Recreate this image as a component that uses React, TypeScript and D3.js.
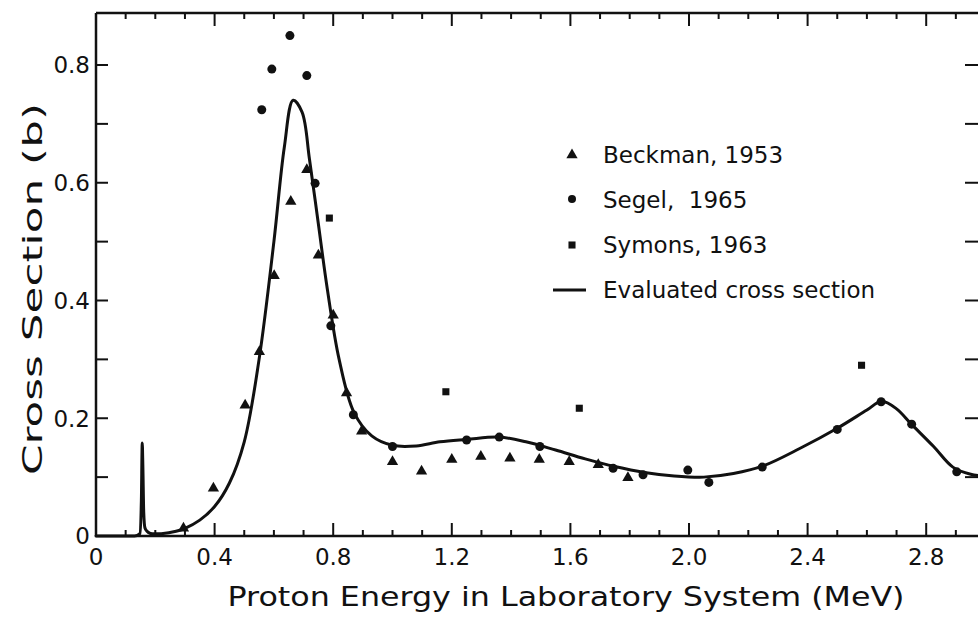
import React from "react";
import * as d3 from "d3";

// Beckman, 1953 (triangles)
const beckmanE = [0.295, 0.396, 0.503, 0.551, 0.601, 0.657, 0.711, 0.75, 0.8, 0.845, 0.896, 1.0, 1.098, 1.2, 1.298, 1.396, 1.495, 1.596, 1.694, 1.794];
const beckmanS = [0.013, 0.081, 0.222, 0.313, 0.442, 0.568, 0.622, 0.477, 0.375, 0.243, 0.178, 0.126, 0.11, 0.13, 0.135, 0.132, 0.13, 0.126, 0.121, 0.099];

// Segel, 1965 (circles)
const segelE = [0.559, 0.593, 0.654, 0.711, 0.739, 0.792, 0.868, 1.0, 1.25, 1.36, 1.497, 1.744, 1.845, 1.996, 2.067, 2.247, 2.5, 2.648, 2.751, 2.903];
const segelS = [0.724, 0.793, 0.85, 0.782, 0.599, 0.357, 0.206, 0.152, 0.163, 0.168, 0.152, 0.115, 0.104, 0.112, 0.091, 0.117, 0.181, 0.228, 0.19, 0.109];

// Symons, 1963 (squares)
const symonsE = [0.787, 1.18, 1.63, 2.582];
const symonsS = [0.54, 0.245, 0.217, 0.29];

// Evaluated cross section: narrow resonance near 0.16 MeV, then the broad curve
const spikeE = [0.0, 0.13, 0.148, 0.153, 0.156, 0.158, 0.161, 0.165, 0.172, 0.185];
const spikeS = [0.0, 0.0, 0.004, 0.06, 0.158, 0.12, 0.04, 0.014, 0.008, 0.004];
const evalE = [0.185, 0.22, 0.27, 0.3, 0.35, 0.4, 0.45, 0.5, 0.55, 0.6, 0.635, 0.665, 0.695, 0.72, 0.75, 0.78, 0.82, 0.87, 0.93, 1.0, 1.08, 1.16, 1.25, 1.36, 1.45, 1.55, 1.65, 1.75, 1.85, 1.95, 2.05, 2.15, 2.25, 2.375, 2.5, 2.6, 2.65, 2.7, 2.75, 2.825, 2.89, 2.95, 3.0];
const evalS = [0.004, 0.004, 0.008, 0.013, 0.027, 0.05, 0.09, 0.16, 0.3, 0.5, 0.66, 0.74, 0.72, 0.64, 0.53, 0.42, 0.3, 0.21, 0.17, 0.154, 0.153, 0.16, 0.164, 0.168, 0.16, 0.146, 0.131, 0.118, 0.108, 0.102, 0.1, 0.106, 0.119, 0.149, 0.183, 0.214, 0.229, 0.216, 0.19, 0.152, 0.117, 0.105, 0.102];

const xLabels = ["0", "0.4", "0.8", "1.2", "1.6", "2.0", "2.4", "2.8"];
const yLabels = ["0", "0.2", "0.4", "0.6", "0.8"];

const legendNames = ["Beckman, 1953", "Segel,  1965", "Symons, 1963", "Evaluated cross section"];

const W = 978;
const H = 618;
const ink = "#111";
const font = "'DejaVu Sans', sans-serif";

export default function App() {
  const x = d3.scaleLinear().domain([0, 3.0]).range([96, 96 + 3 * 296.5]);
  const y = d3.scaleLinear().domain([0, 0.8]).range([536, 65]);
  const yTop = y.invert(13);

  const spikeLine = d3
    .line<number>()
    .x((_, i) => x(spikeE[i]))
    .y((d) => y(d))
    .curve(d3.curveMonotoneX);
  const mainLine = d3
    .line<number>()
    .x((_, i) => x(evalE[i]))
    .y((d) => y(d))
    .curve(d3.curveCatmullRom.alpha(0.5));

  const minorX = d3.range(1, 30).map((i) => i / 10);
  const minorY = d3.range(1, 9).map((i) => i / 10);

  const tri = d3.symbol().type(d3.symbolTriangle).size(55)();
  const sq = d3.symbol().type(d3.symbolSquare).size(50)();

  return (
    <svg width={W} height={H} style={{ position: "absolute", left: 0, top: 0, background: "#fff" }}>
      <rect width={W} height={H} fill="#fff" />
      {/* frame */}
      <g stroke={ink} strokeWidth={2.5} fill="none">
        <line x1={x(0)} x2={x(0)} y1={y(yTop)} y2={y(0)} />
        <line x1={x(0)} x2={x(3)} y1={y(0)} y2={y(0)} />
        <line x1={x(0)} x2={x(3)} y1={y(yTop)} y2={y(yTop)} />
        <line x1={x(3)} x2={x(3)} y1={y(yTop)} y2={y(0)} />
      </g>
      {/* x ticks bottom and top */}
      <g stroke={ink} strokeWidth={2}>
        {minorX.map((v) => {
          const major = Math.abs(v / 0.4 - Math.round(v / 0.4)) < 1e-6;
          const len = major ? 13 : 6;
          return (
            <g key={v}>
              <line x1={x(v)} x2={x(v)} y1={y(0)} y2={y(0) - len} />
              <line x1={x(v)} x2={x(v)} y1={y(yTop)} y2={y(yTop) + len} />
            </g>
          );
        })}
      </g>
      {/* y ticks left and right */}
      <g stroke={ink} strokeWidth={2}>
        {minorY.map((v) => (
          <g key={v}>
            <line x1={x(0)} x2={x(0) + 12} y1={y(v)} y2={y(v)} />
            <line x1={965} x2={x(3)} y1={y(v)} y2={y(v)} />
          </g>
        ))}
      </g>
      {/* tick labels */}
      <g fill={ink} fontFamily={font} fontSize={23}>
        {xLabels.map((t) => (
          <text key={t} x={x(+t)} y={565} textAnchor="middle">
            {t}
          </text>
        ))}
        {yLabels.map((t) => (
          <text key={t} x={90} y={y(+t)} dy="0.36em" textAnchor="end">
            {t}
          </text>
        ))}
      </g>
      {/* axis titles */}
      <text x={566} y={606} textAnchor="middle" fontFamily={font} fontSize={27} fill={ink} textLength={677} lengthAdjust="spacingAndGlyphs">
        Proton Energy in Laboratory System (MeV)
      </text>
      <text transform={`translate(42,${289}) rotate(-90)`} textAnchor="middle" fontFamily={font} fontSize={27} fill={ink} textLength={372} lengthAdjust="spacingAndGlyphs">
        Cross Section (b)
      </text>
      {/* evaluated curve */}
      <g fill="none" stroke={ink} strokeWidth={3} strokeLinejoin="round" strokeLinecap="round">
        <path d={spikeLine(spikeS) || ""} />
        <path d={mainLine(evalS) || ""} />
      </g>
      {/* data points */}
      <g fill={ink}>
        {beckmanE.map((e, i) => (
          <path key={"b" + i} d={tri} transform={`translate(${x(e)},${y(beckmanS[i])})`} />
        ))}
        {segelE.map((e, i) => (
          <circle key={"s" + i} cx={x(e)} cy={y(segelS[i])} r={4.5} />
        ))}
        {symonsE.map((e, i) => (
          <path key={"y" + i} d={sq} transform={`translate(${x(e)},${y(symonsS[i])})`} />
        ))}
      </g>
      {/* legend */}
      <g fill={ink} fontFamily={font} fontSize={23}>
        <path d={tri} transform="translate(572,155)" />
        <circle cx={572} cy={199} r={4} />
        <path d={sq} transform="translate(572,245)" />
        <line x1={553} x2={586} y1={290} y2={290} stroke={ink} strokeWidth={3} />
        {legendNames.map((n, i) => (
          <text key={n} x={603} y={155 + i * 45} dy="0.36em" style={{ whiteSpace: "pre" }}>
            {n}
          </text>
        ))}
      </g>
    </svg>
  );
}
